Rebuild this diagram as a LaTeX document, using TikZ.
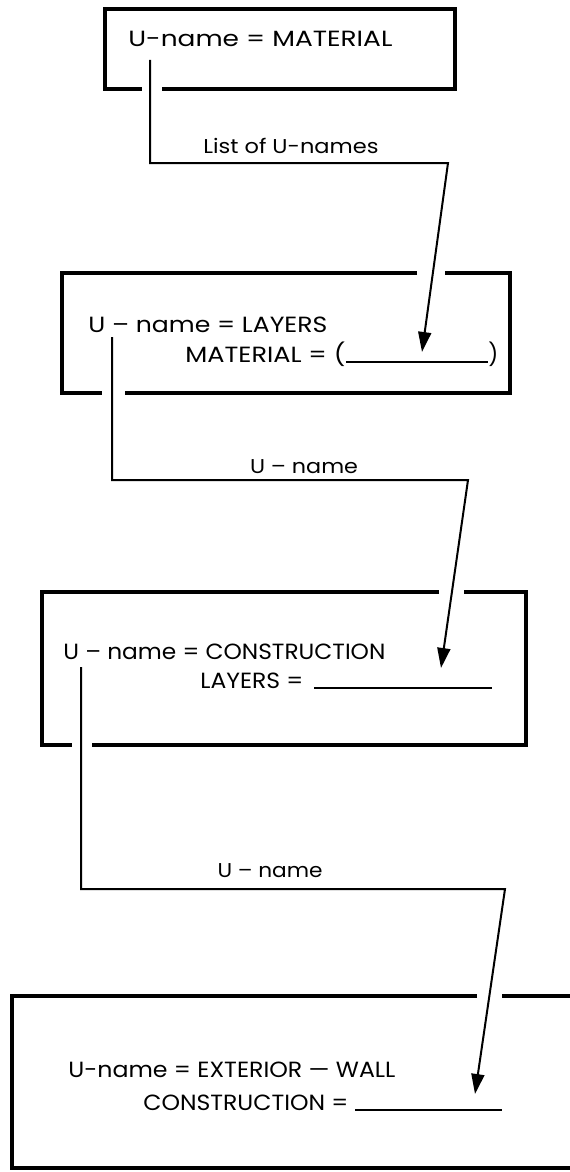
\documentclass[tikz,border=0pt]{standalone}
\usepackage{fontspec}
\usepackage{graphicx}
\setmainfont{Poppins}
\usetikzlibrary{arrows.meta}
\newcommand{\fitto}[2]{\resizebox{#1}{\height}{#2}}
\begin{document}
\begin{tikzpicture}[x=0.5pt,y=-0.5pt,
  boxline/.style={line width=2pt, line join=miter},
  conn/.style={line width=1pt},
  arrowconn/.style={conn, -{Triangle[length=10pt,width=6.5pt]}},
  boxtext/.style={anchor=base west, inner sep=0pt, font=\fontsize{11}{13}\selectfont},
  lbl/.style={anchor=base, inner sep=0pt, font=\fontsize{10}{12}\selectfont},
  blank/.style={line width=1pt}]
\useasboundingbox (0,0) rectangle (569,1172);
% box 1
\draw[boxline] (162,89) -| (455,9) -| (105,89) -- (142,89);
\node[boxtext] (t1) at (128,47) {\fitto{132pt}{U-name = MATERIAL}};
% box 2
\draw[boxline] (417,273) -| (62,393) -- (102,393);
\draw[boxline] (125,393) -| (510,273) -- (445,273);
\node[boxtext] (t2) at (88,332) {\fitto{119.5pt}{U – name = LAYERS}};
\node[boxtext] (t2b) at (185,362) {\fitto{80pt}{MATERIAL = (}};
\node[boxtext] (t2p) at (488,362) {)};
\draw[blank] (t2b.base east) -- (t2p.base west);
% box 3
\draw[boxline] (439,592) -| (42,745) -- (72,745);
\draw[boxline] (92,745) -| (526,592) -- (464,592);
\node[boxtext] (t3) at (63,659) {\fitto{161pt}{U – name = CONSTRUCTION}};
\node[boxtext] (t3b) at (200,688) {\fitto{51.5pt}{LAYERS =}};
\coordinate (u3s) at (314,688);
\coordinate (u3e) at (492,688);
\draw[blank] (u3s) -- (u3e);
% box 4
\draw[boxline] (477,996) -- (12,996) -- (12,1168) -- (575,1168);
\draw[boxline] (502,996) -- (575,996);
\node[boxtext] (t4) at (68,1077) {\fitto{163.5pt}{U-name = EXTERIOR — WALL}};
\node[boxtext] (t4b) at (143,1110) {\fitto{102.5pt}{CONSTRUCTION =}};
\coordinate (u4s) at (355,1110);
\coordinate (u4e) at (502,1110);
\draw[blank] (u4s) -- (u4e);
% connectors
\coordinate (s1) at (150,60); \coordinate (c1) at (448,163); \coordinate (a1) at (422,352);
\coordinate (s2) at (112,337); \coordinate (c2) at (468,480); \coordinate (a2) at (441,668);
\coordinate (s3) at (81,667); \coordinate (c3) at (505,889); \coordinate (a3) at (475,1094);
\draw[arrowconn] (s1) |- (c1) -- (a1);
\draw[arrowconn] (s2) |- (c2) -- (a2);
\draw[arrowconn] (s3) |- (c3) -- (a3);
\node[lbl] (l1) at (291,153) {\fitto{87.5pt}{List of U-names}};
\node[lbl] (l2) at (304,473) {\fitto{54pt}{U – name}};
\node[lbl] (l3) at (270,877) {\fitto{52.5pt}{U – name}};
\end{tikzpicture}
\end{document}
